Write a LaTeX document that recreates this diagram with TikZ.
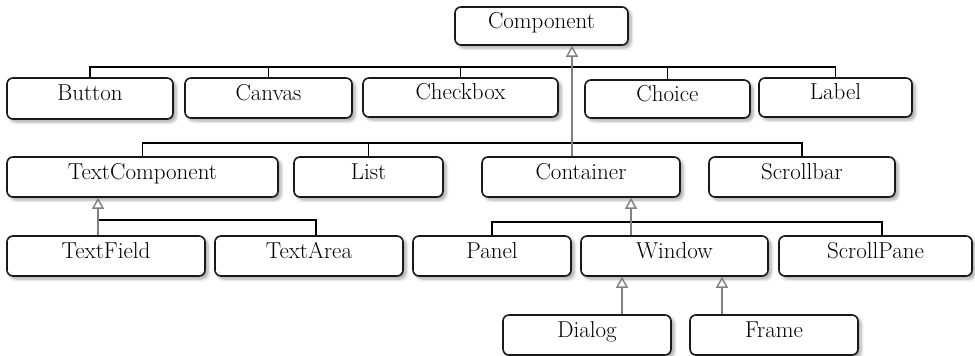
\documentclass[tikz,border=0pt]{standalone}
\usetikzlibrary{arrows.meta,shadows.blur}

\tikzset{
  cls/.style={draw=black!90, line width=1.6pt, rounded corners=6pt, fill=white,
    blur shadow={shadow xshift=3pt, shadow yshift=-3pt, shadow blur steps=6,
      shadow blur radius=3pt, shadow opacity=35},
    inner sep=0pt, text height=15pt, text depth=11pt,
    font=\fontsize{23}{27}\selectfont},
  bus/.style={draw=black, line width=1.3pt},
  inherit/.style={draw=black!50, line width=1.6pt,
    -{Triangle[open, length=11pt, width=12pt, line width=1.4pt]}},
}

\begin{document}
\begin{tikzpicture}[x=1pt, y=-1pt]
\useasboundingbox (0,0) rectangle (975,356);

% classes
\node[cls, minimum width=173pt, minimum height=38pt] (component)  at (541.5,26)  {Component};

\node[cls, minimum width=166pt, minimum height=41pt] (button)     at (90,98.5)   {Button};
\node[cls, minimum width=167pt, minimum height=40pt] (canvas)     at (268.5,98)  {Canvas};
\node[cls, minimum width=195pt, minimum height=39pt] (checkbox)   at (460.5,97.5){Checkbox};
\node[cls, minimum width=165pt, minimum height=38pt] (choice)     at (667.5,99)  {Choice};
\node[cls, minimum width=153pt, minimum height=39pt] (label)      at (835.5,97.5){Label};

\node[cls, minimum width=271pt, minimum height=40pt] (textcomp)   at (142.5,177) {TextComponent};
\node[cls, minimum width=149pt, minimum height=40pt] (list)       at (368.5,177) {List};
\node[cls, minimum width=198pt, minimum height=40pt] (container)  at (581,177)   {Container};
\node[cls, minimum width=186pt, minimum height=40pt] (scrollbar)  at (802,177)   {Scrollbar};

\node[cls, minimum width=198pt, minimum height=40pt] (textfield)  at (106,256)   {TextField};
\node[cls, minimum width=188pt, minimum height=40pt] (textarea)   at (309,256)   {TextArea};
\node[cls, minimum width=158pt, minimum height=40pt] (panel)      at (492,256)   {Panel};
\node[cls, minimum width=187pt, minimum height=40pt] (window)     at (674.5,256) {Window};
\node[cls, minimum width=193pt, minimum height=40pt] (scrollpane) at (875.5,256) {ScrollPane};

\node[cls, minimum width=168pt, minimum height=40pt] (dialog)     at (587,335)   {Dialog};
\node[cls, minimum width=168pt, minimum height=40pt] (frame)      at (774,335)   {Frame};

% bus heights and connector columns
\coordinate (bus1) at (0,67);
\coordinate (bus2) at (0,143);
\coordinate (bus3) at (0,220);
\coordinate (bus4) at (0,222);
\coordinate (trunk) at (572,0);
\coordinate (tcx) at (98,0);
\coordinate (tax) at (316,0);
\coordinate (ctx) at (631,0);
\coordinate (spx) at (882,0);
\coordinate (dlx) at (622,0);
\coordinate (frx) at (722,0);

% subclasses of Component, first row
\draw[bus] (button.north) -- (button.north |- bus1) -- (label.north |- bus1) -- (label.north);
\draw[bus] (canvas.north) -- (canvas.north |- bus1);
\draw[bus] (checkbox.north) -- (checkbox.north |- bus1);
\draw[bus] (choice.north) -- (choice.north |- bus1);

% subclasses of Component, second row
\draw[bus] (textcomp.north) -- (textcomp.north |- bus2) -- (scrollbar.north |- bus2) -- (scrollbar.north);
\draw[bus] (list.north) -- (list.north |- bus2);

% inheritance trunk into Component
\draw[inherit] (container.north -| trunk) -- (component.south -| trunk);

% TextComponent family
\draw[bus] (tcx |- bus3) -- (tax |- bus3) -- (textarea.north -| tax);
\draw[inherit] (textfield.north -| tcx) -- (textcomp.south -| tcx);

% Container family
\draw[bus] (panel.north) -- (panel.north |- bus4) -- (spx |- bus4) -- (scrollpane.north -| spx);
\draw[inherit] (window.north -| ctx) -- (container.south -| ctx);

% Window family
\draw[inherit] (dialog.north -| dlx) -- (window.south -| dlx);
\draw[inherit] (frame.north -| frx) -- (window.south -| frx);
\end{tikzpicture}
\end{document}
